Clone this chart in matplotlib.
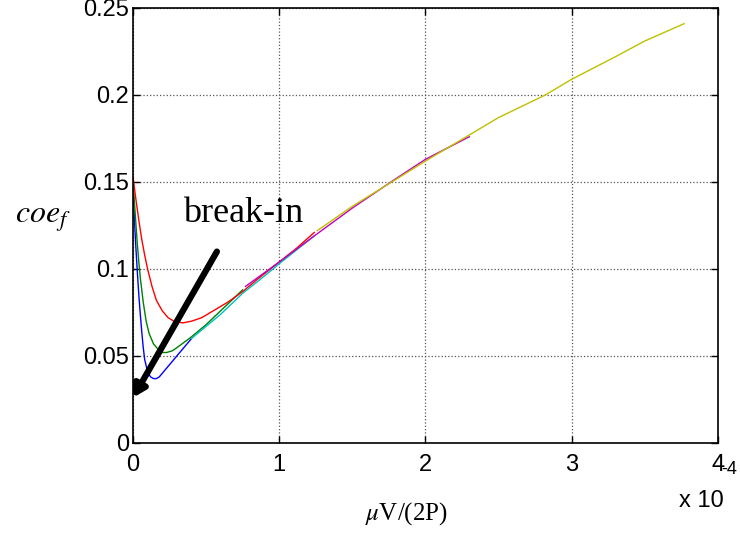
import numpy as np
import matplotlib.pyplot as plt

# curve data (x in units of 1e-4)
blue_x = [0, 0.005, 0.01, 0.02, 0.03, 0.04, 0.05, 0.06, 0.07, 0.08, 0.10, 0.12, 0.14, 0.16, 0.18, 0.22, 0.26, 0.32, 0.40]
blue_y = [0.148, 0.138, 0.128, 0.112, 0.098, 0.085, 0.074, 0.064, 0.055, 0.048, 0.041, 0.038, 0.037, 0.037, 0.038, 0.042, 0.046, 0.052, 0.060]
green_x = [0, 0.01, 0.02, 0.03, 0.04, 0.05, 0.07, 0.09, 0.11, 0.14, 0.17, 0.20, 0.23, 0.27, 0.32, 0.40, 0.50, 0.60, 0.75]
green_y = [0.150, 0.138, 0.126, 0.114, 0.104, 0.095, 0.081, 0.070, 0.063, 0.057, 0.054, 0.052, 0.052, 0.053, 0.056, 0.061, 0.068, 0.076, 0.088]
red_x = [0, 0.02, 0.04, 0.06, 0.08, 0.10, 0.13, 0.16, 0.20, 0.24, 0.28, 0.34, 0.40, 0.47, 0.55, 0.65, 0.75, 0.85, 1.0, 1.12, 1.24]
red_y = [0.153, 0.140, 0.128, 0.117, 0.108, 0.100, 0.090, 0.082, 0.076, 0.072, 0.070, 0.069, 0.070, 0.072, 0.076, 0.081, 0.087, 0.094, 0.104, 0.112, 0.121]
cyan_x = [0.40, 0.50, 0.60, 0.75, 0.90, 1.0, 1.12, 1.24]
cyan_y = [0.060, 0.067, 0.074, 0.086, 0.096, 0.103, 0.111, 0.119]
mag_x = [0.77, 1.0, 1.24, 1.5, 1.8, 2.0, 2.3]
mag_y = [0.090, 0.104, 0.119, 0.135, 0.152, 0.163, 0.176]
yel_x = [1.26, 1.5, 1.77, 2.0, 2.3, 2.5, 2.82, 3.0, 3.3, 3.5, 3.77]
yel_y = [0.122, 0.136, 0.150, 0.162, 0.177, 0.187, 0.200, 0.209, 0.222, 0.231, 0.241]

series = [
    (blue_x, blue_y, "#0000ff"),
    (green_x, green_y, "#008000"),
    (red_x, red_y, "#ff0000"),
    (cyan_x, cyan_y, "#00bfbf"),
    (mag_x, mag_y, "#bf00bf"),
    (yel_x, yel_y, "#bfbf00"),
]

xticks = [0, 1, 2, 3, 4]
yticks = [0, 0.05, 0.1, 0.15, 0.2, 0.25]
ytick_labels = ["0", "0.05", "0.1", "0.15", "0.2", "0.25"]

plt.rcParams["font.family"] = ["Liberation Sans", "DejaVu Sans"]
plt.rcParams["mathtext.fontset"] = "stix"

fig = plt.figure(figsize=(7.4, 5.33), dpi=100)
ax = fig.add_axes([0.1797, 0.1689, 0.7903, 0.8161])

for x, y, c in series:
    ax.plot(np.array(x) * 1e-4, y, color=c, lw=1)

ax.set_xlim(0, 4e-4)
ax.set_ylim(0, 0.25)
ax.set_xticks([t * 1e-4 for t in xticks])
ax.set_xticklabels([str(t) for t in xticks])
ax.set_yticks(yticks)
ax.set_yticklabels(ytick_labels)
ax.tick_params(direction="in", top=True, right=True, labelsize=17, length=5,
               width=1)
ax.tick_params(axis="x", pad=8)
ax.tick_params(axis="y", pad=3)
ax.grid(True, color="#555555", linestyle=":", linewidth=0.9)
for s in ax.spines.values():
    s.set_linewidth(1.2)

# break-in arrow
ax.annotate("", xy=(0.0, 0.026), xytext=(0.574e-4, 0.110),
            arrowprops=dict(arrowstyle="-|>,head_length=0.7,head_width=0.4",
                            color="black", lw=4.5, shrinkA=0, shrinkB=0))
ax.text(0.34e-4, 0.127, "break-in", fontsize=26, family="Liberation Serif",
        ha="left", va="baseline")

fig.text(0.02, 0.59, "$coe_f$", fontsize=23, ha="left", va="center")
fig.text(0.549, 0.012, r"$\mu$V/(2P)", fontsize=18, family="Liberation Serif",
         ha="center", va="bottom")
fig.text(0.917, 0.04, "x 10", fontsize=17, ha="left", va="bottom")
fig.text(0.974, 0.104, "-4", fontsize=13, ha="left", va="bottom")

fig.savefig("out.png", dpi=100)
